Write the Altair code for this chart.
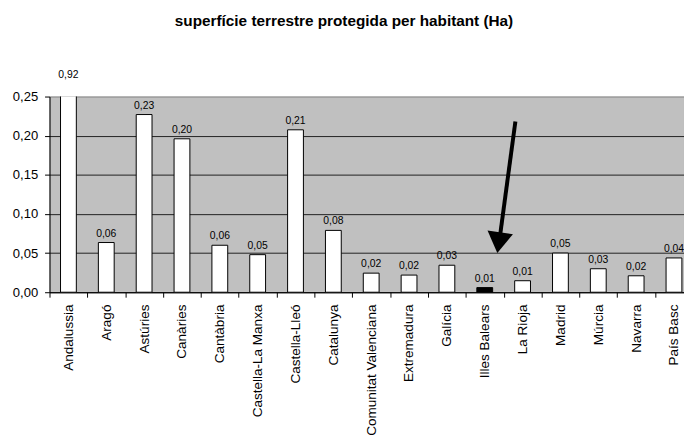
import altair as alt
import pandas as pd

# ---- data ----
regions = ["Andalussia", "Aragó", "Astúries", "Canàries", "Cantàbria",
           "Castella-La Manxa", "Castella-Lleó", "Catalunya",
           "Comunitat Valenciana", "Extremadura", "Galícia", "Illes Balears",
           "La Rioja", "Madrid", "Múrcia", "Navarra", "País Basc"]
values = [0.92, 0.0635, 0.227, 0.196, 0.060, 0.048, 0.2075, 0.079,
          0.0244, 0.0219, 0.0345, 0.0059, 0.0147, 0.050, 0.030, 0.021, 0.0438]
highlight = ["Illes Balears"]
y_ticks = [0.0, 0.05, 0.10, 0.15, 0.20, 0.25]
y_max = 0.25
title_text = "superfície terrestre protegida per habitant (Ha)"

# arrow annotation, in (category index, value) units
arrow_x = [12.31, 11.88]
arrow_y = [0.218, 0.0636]
arrow_head = [11.88, 0.0664]

FONT = "Liberation Sans"

df = pd.DataFrame({"region": regions, "v": values})
df["hl"] = df["region"].isin(highlight)

x_scale = alt.Scale(domain=regions, range=[0, 651], paddingInner=0, paddingOuter=0)
y_scale = alt.Scale(domain=[0, y_max], nice=False, zero=True)

y_axis = alt.Axis(title=None, values=y_ticks, tickSize=5,
                  tickColor="black", domainColor="black",
                  labelFont=FONT, labelFontSize=13.2, labelColor="black",
                  labelPadding=7, labelOverlap=False,
                  labelExpr="replace(format(datum.value, '.2f'), '.', ',')",
                  grid=True,
                  gridColor={"condition": {"test": f"datum.value >= {y_max - 0.001}",
                                           "value": "#999999"},
                             "value": "#202020"},
                  gridWidth=1)
x_axis = alt.Axis(title=None, labelAngle=270, labelFontSize=13.7,
                  labelFont=FONT, labelColor="black",
                  tickBand="extent", tickSize=5, tickColor="black",
                  labelPadding=7, domainColor="black", grid=False)

base = alt.Chart(df).transform_calculate(
    ylab=f"min(datum.v, {y_max})",
    label="replace(format(datum.v, '.2f'), '.', ',')",
)

bars = base.mark_bar(width=16, stroke="black", strokeWidth=1, clip=True).encode(
    x=alt.X("region:N", sort=regions, scale=x_scale, axis=x_axis),
    y=alt.Y("v:Q", scale=y_scale, axis=y_axis),
    fill=alt.condition("datum.hl", alt.value("black"), alt.value("white")),
)

labels = base.transform_filter(f"datum.v <= {y_max}").mark_text(
    fontSize=10.5, font=FONT, color="black", baseline="alphabetic", dy=-6
).encode(x=alt.X("region:N", sort=regions, scale=x_scale, axis=x_axis),
         y=alt.Y("ylab:Q", scale=y_scale, axis=y_axis), text="label:N")

labels_over = base.transform_filter(f"datum.v > {y_max}").mark_text(
    fontSize=10.5, font=FONT, color="black", baseline="alphabetic", dy=-19
).encode(x=alt.X("region:N", sort=regions, scale=x_scale, axis=x_axis),
         y=alt.Y("ylab:Q", scale=y_scale, axis=y_axis), text="label:N")

main = alt.layer(bars, labels, labels_over)

adf = pd.DataFrame({"x1": [arrow_x[0]], "x2": [arrow_x[1]],
                    "y1": [arrow_y[0]], "y2": [arrow_y[1]]})
hdf = pd.DataFrame({"hx": [arrow_head[0]], "hy": [arrow_head[1]]})
ax_scale = alt.Scale(domain=[0, len(regions)], range=[0, 651], nice=False, zero=False)

arrow_rule = alt.Chart(adf).mark_rule(color="black", strokeWidth=4).encode(
    x=alt.X("x1:Q", scale=ax_scale, axis=None), x2="x2:Q",
    y=alt.Y("y1:Q", scale=y_scale, axis=y_axis), y2="y2:Q")
arrow_tip = alt.Chart(hdf).mark_point(
    shape="M-1,-0.62L1,-0.62L0,1Z", size=676, filled=True, color="black",
    opacity=1, strokeWidth=0, angle=8).encode(
    x=alt.X("hx:Q", scale=ax_scale, axis=None),
    y=alt.Y("hy:Q", scale=y_scale, axis=y_axis))
arrow = alt.layer(arrow_rule, arrow_tip)

chart = alt.layer(main, arrow).resolve_scale(x="independent").properties(
    width=642, height=198,
    title=alt.TitleParams(title_text, font=FONT, fontSize=15.5, fontWeight="bold",
                          color="black", anchor="middle", dx=-23, dy=-37),
    autosize=alt.AutoSizeParams(type="none"),
    padding={"left": 42, "top": 87, "right": 0, "bottom": 153},
).configure_view(fill="#C0C0C0", stroke="#999999", strokeWidth=1)

chart.save("out.html", embed_options={"renderer": "svg", "actions": False})
